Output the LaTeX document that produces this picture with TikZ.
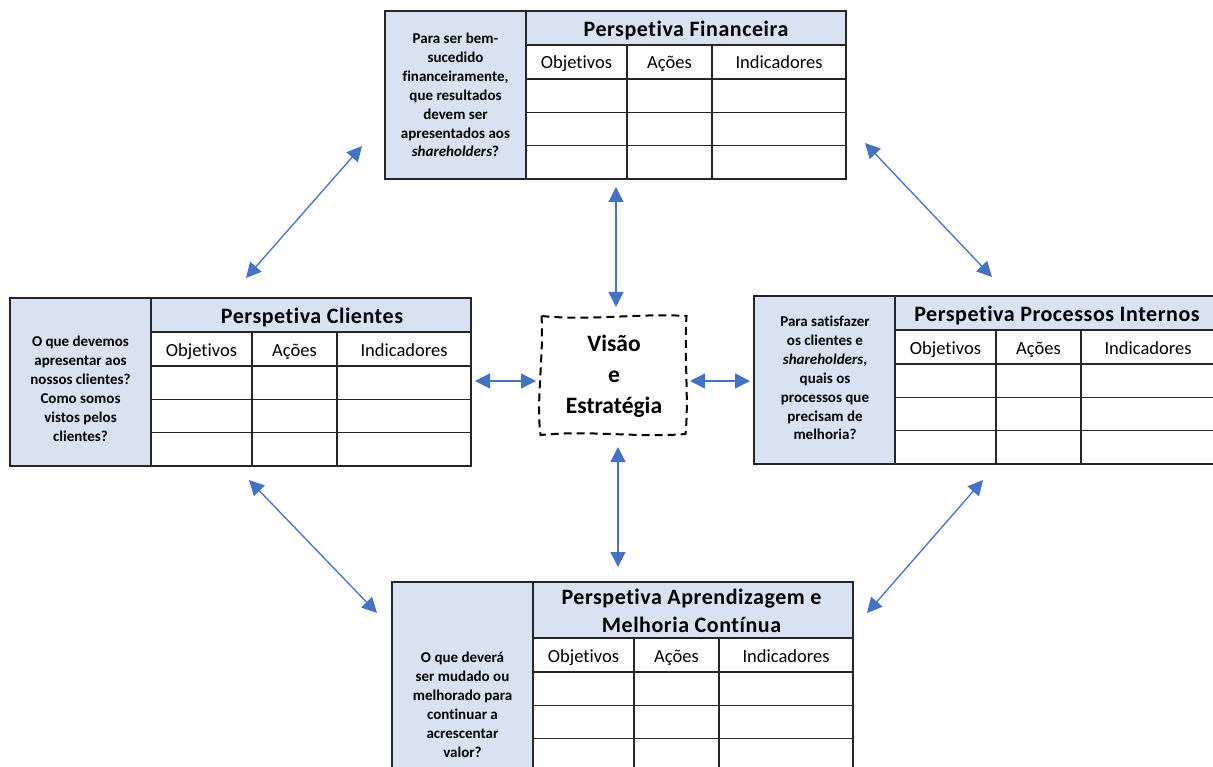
\documentclass[tikz,border=0pt]{standalone}
\usepackage{fontspec}
\setmainfont{Carlito}[Ligatures=NoCommon]
\usetikzlibrary{arrows.meta}
\definecolor{panelblue}{HTML}{D9E2F3}
\definecolor{arrowblue}{HTML}{4472C4}
\tikzset{
  grid/.style={draw=black!85, line width=1.2pt},
  panel/.style={fill=panelblue},
  titletext/.style={font=\fontsize{22}{28}\selectfont\bfseries\addfontfeature{LetterSpace=2.5}, align=center, inner sep=0},
  coltext/.style={font=\fontsize{18.5}{22}\selectfont, inner sep=0, anchor=base},
  qtext/.style={font=\fontsize{15}{18.9}\selectfont\bfseries, align=center, inner sep=0},
  biarrow/.style={draw=arrowblue, line width=1.3pt,
     {Triangle[length=15pt,width=15pt]}-{Triangle[length=15pt,width=15pt]}},
  wavy/.style={draw=black, line width=2pt, dash pattern=on 8pt off 5pt}
}
% #1 name, #2 left x, #3 top y, #4 header height
\newcommand\pblock[4]{%
  \pgfmathsetmacro\pL{#2}\pgfmathsetmacro\pT{#3}%
  \pgfmathsetmacro\pP{#2+141}\pgfmathsetmacro\pA{#2+242}%
  \pgfmathsetmacro\pB{#2+327}\pgfmathsetmacro\pR{#2+461}%
  \pgfmathsetmacro\pH{#3+#4}\pgfmathsetmacro\pC{#3+#4+34}%
  \pgfmathsetmacro\pRa{#3+#4+67.3}\pgfmathsetmacro\pRb{#3+#4+100.6}%
  \pgfmathsetmacro\pE{#3+#4+134}%
  \pgfmathsetmacro\pBase{#3+#4+17+7}%
  \fill[panel] (\pL,\pT) rectangle (\pP,\pE);
  \fill[panel] (\pP,\pT) rectangle (\pR,\pH);
  \draw[grid] (\pL,\pT) rectangle (\pR,\pE);
  \draw[grid] (\pP,\pT) -- (\pP,\pE);
  \draw[grid] (\pP,\pH) -- (\pR,\pH);
  \draw[grid] (\pP,\pC) -- (\pR,\pC);
  \draw[grid] (\pP,\pRa) -- (\pR,\pRa);
  \draw[grid] (\pP,\pRb) -- (\pR,\pRb);
  \draw[grid] (\pA,\pH) -- (\pA,\pE);
  \draw[grid] (\pB,\pH) -- (\pB,\pE);
  \node[coltext] (#1-obj) at ({(\pP+\pA)/2},\pBase) {Objetivos};
  \node[coltext] (#1-acc) at ({(\pA+\pB)/2},\pBase) {Ações};
  \node[coltext] (#1-ind) at ({(\pB+\pR)/2},\pBase) {Indicadores};
}
\begin{document}
\begin{tikzpicture}[x=1pt,y=-1pt]
\useasboundingbox (0,0) rectangle (1213,767);
\fill[white] (0,0) rectangle (1213,767);

% Financeira
\pblock{fin}{385}{11}{34}
\node[titletext, anchor=base] (fin-title) at (686,36.5) {Perspetiva Financeira};
\node[qtext] (fin-q) at (455.5,95) {Para ser bem-\\sucedido\\financeiramente,\\que resultados\\devem ser\\apresentados aos\\\textit{shareholders}?};

% Clientes
\pblock{cli}{10}{298}{34}
\node[titletext, anchor=base] (cli-title) at (312,323.5) {Perspetiva Clientes};
\node[qtext] (cli-q) at (80.5,389) {O que devemos\\apresentar aos\\nossos clientes?\\Como somos\\vistos pelos\\clientes?};

% Processos Internos
\pblock{pro}{754}{296}{34}
\node[titletext, anchor=base] (pro-title) at (1057,321.5) {Perspetiva Processos Internos};
\node[qtext] (pro-q) at (825,378) {Para satisfazer\\os clientes e\\\textit{shareholders},\\quais os\\processos que\\precisam de\\melhoria?};

% Aprendizagem
\pblock{apr}{392}{582}{56}
\node[titletext] (apr-title) at (691.5,611) {Perspetiva Aprendizagem e\\Melhoria Contínua};
\node[qtext] (apr-q) at (462.5,705) {O que deverá\\ser mudado ou\\melhorado para\\continuar a\\acrescentar\\valor?};

% Visao e Estrategia
\draw[wavy] (541.5,316) .. controls (590,321) and (640,313) .. (686.5,316)
  .. controls (684,355) and (689,400) .. (685.5,434)
  .. controls (640,438) and (590,430) .. (540.5,435)
  .. controls (536,400) and (544,355) .. (541.5,316);
\node[font=\fontsize{23.5}{31}\selectfont\bfseries, align=center, inner sep=0] (vis) at (614,376) {Visão\\e\\Estratégia};

% arrow end coordinates
\coordinate (a1s) at (616,187); \coordinate (a1e) at (616,307);
\coordinate (a2s) at (618,447); \coordinate (a2e) at (618,567);
\coordinate (a3s) at (475,381); \coordinate (a3e) at (536,381);
\coordinate (a4s) at (690,381); \coordinate (a4e) at (750,381);
\coordinate (a5s) at (246,278); \coordinate (a5e) at (362,146);
\coordinate (a6s) at (865,143); \coordinate (a6e) at (992,277);
\coordinate (a7s) at (249,480); \coordinate (a7e) at (377,613);
\coordinate (a8s) at (983,480); \coordinate (a8e) at (867,613);
\foreach \i in {1,...,8} \draw[biarrow] (a\i s) -- (a\i e);
\end{tikzpicture}
\end{document}
